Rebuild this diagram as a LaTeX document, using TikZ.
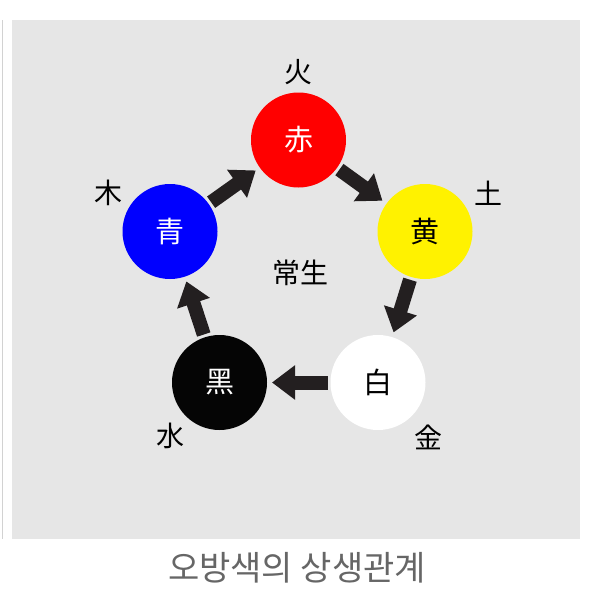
\documentclass[tikz,border=0pt]{standalone}
\usepackage{fontspec}
\newfontfamily\cjk{Noto Sans CJK KR}
\usetikzlibrary{arrows.meta}
\definecolor{bggray}{HTML}{E6E6E6}
\definecolor{arrowdark}{HTML}{231F20}
\definecolor{captiongray}{HTML}{666666}
\tikzset{
  elem/.style={circle, minimum size=95pt, inner sep=0pt, outer sep=0pt, font=\cjk\fontsize{29}{29}\selectfont},
  lab/.style={font=\cjk\fontsize{28}{28}\selectfont, text=black, inner sep=0pt},
  blockarrow/.style={draw=arrowdark, line width=14pt, shorten <=3pt, shorten >=5pt,
    -{Triangle[length=23pt,width=33pt]}},
}
\begin{document}
\begin{tikzpicture}[x=1pt,y=-1pt]
\useasboundingbox (0,0) rectangle (590,598);
\fill[bggray] (12,20) rectangle (580,539);
\draw[bggray!80!gray, line width=1pt] (2.5,20) -- (2.5,539);
\node[elem, fill=red, text=white] (red) at (298.5,140) {赤};
\node[elem, fill=blue, text=white] (blue) at (170,231.5) {青};
\node[elem, fill=yellow, text=black] (yellow) at (425,231.5) {黄};
\node[elem, fill=white, text=black] (white) at (378,382.5) {白};
\node[elem, fill=black!98, text=white] (black) at (219.5,382.5) {黑};
\node[lab] (fire) at (298,72) {火};
\node[lab] (wood) at (108,193) {木};
\node[lab] (earth) at (488,193) {土};
\node[lab] (metal) at (428,437) {金};
\node[lab] (water) at (170,436) {水};
\node[lab] (center) at (300,273) {常生};
\draw[blockarrow] (blue) -- (red);
\draw[blockarrow] (red) -- (yellow);
\draw[blockarrow] (yellow) -- (white);
\draw[blockarrow] (white) -- (black);
\draw[blockarrow] (black) -- (blue);
\node[font=\cjk\fontsize{34}{34}\selectfont, text=captiongray, inner sep=0pt] (caption) at (297,568) {오방색의 상생관계};
\end{tikzpicture}
\end{document}
